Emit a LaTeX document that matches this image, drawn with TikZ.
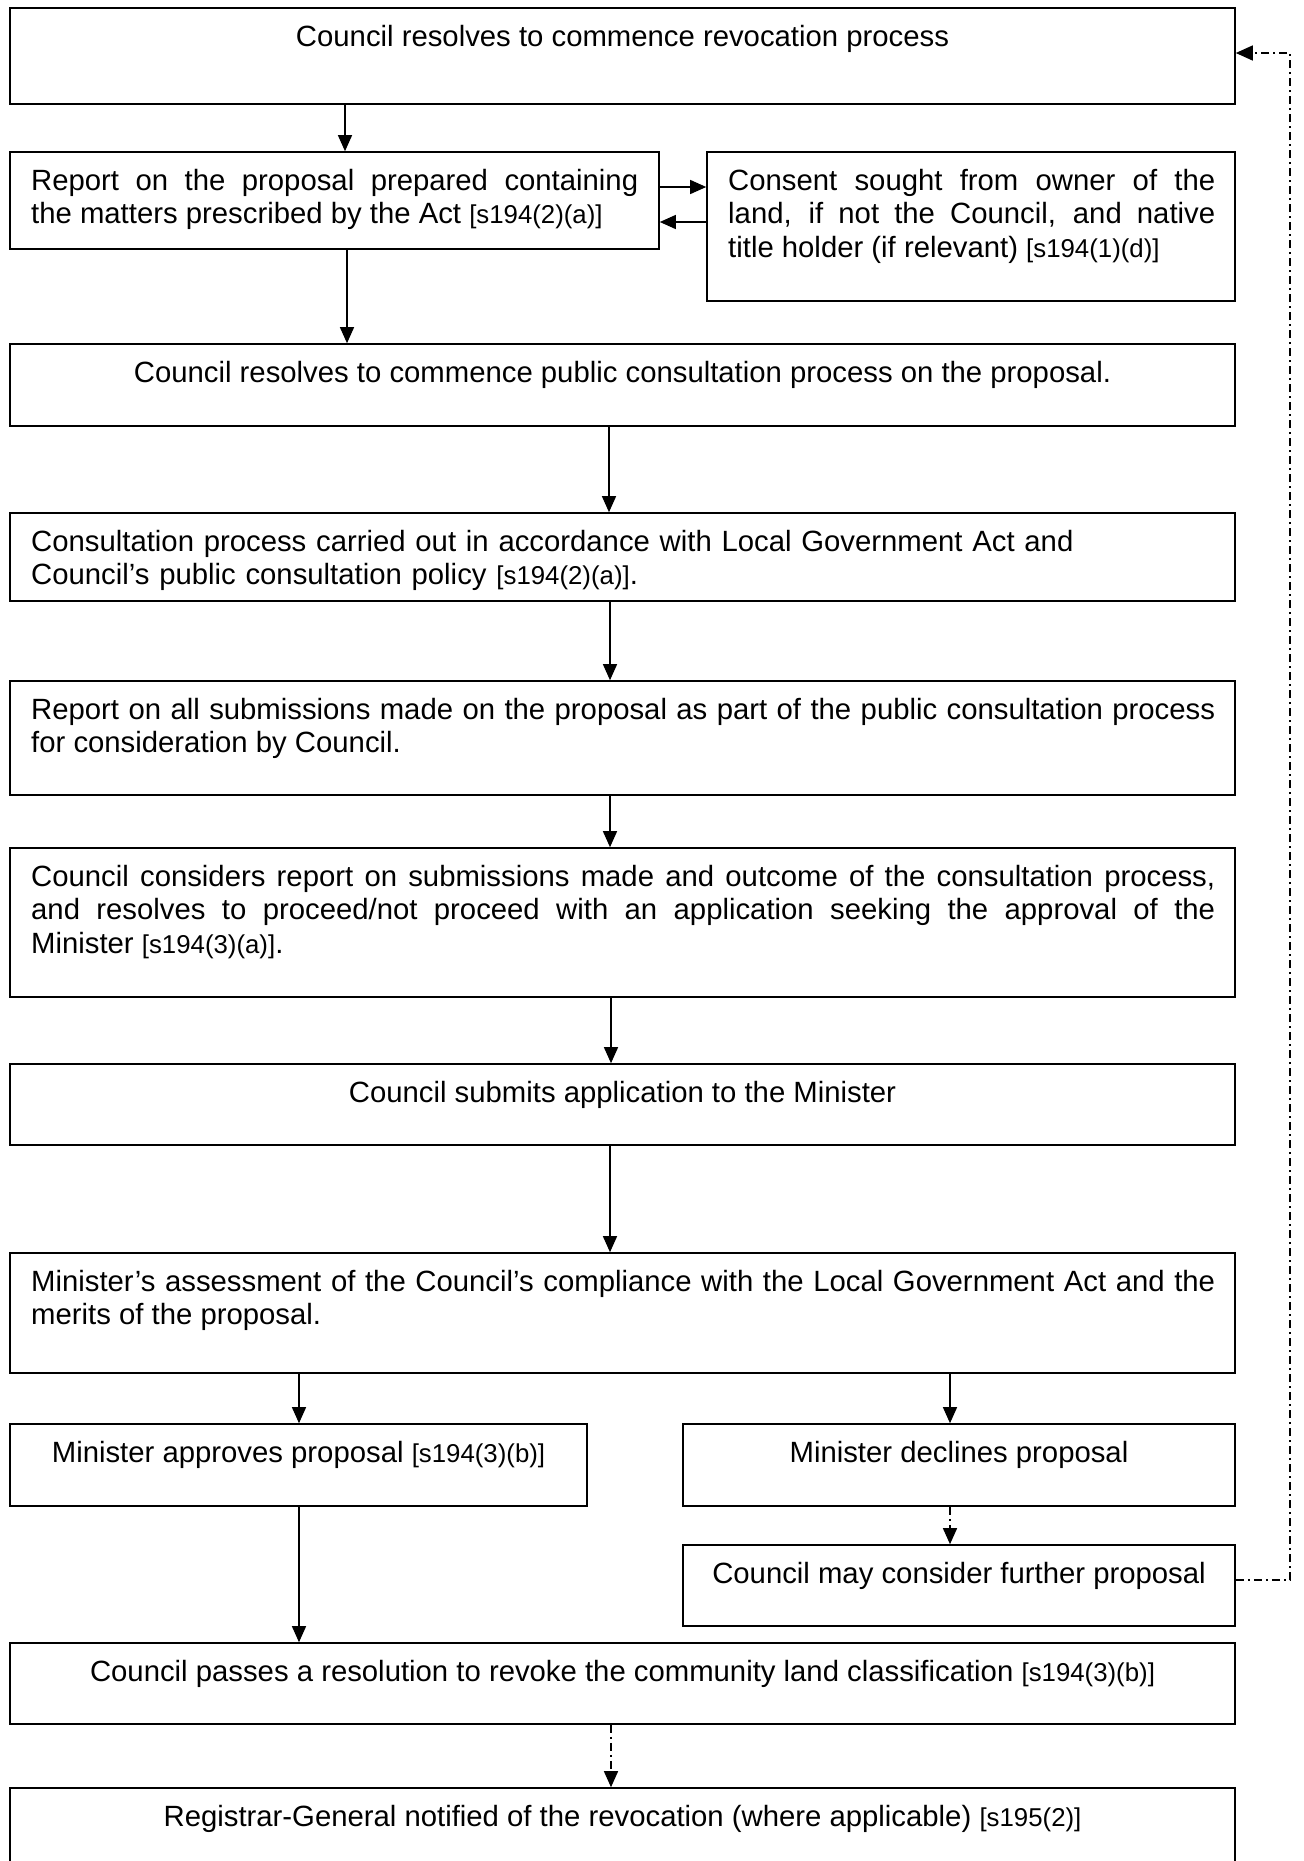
\documentclass[tikz,border=0pt]{standalone}
\usepackage{fontspec}
\setmainfont{Liberation Sans}
\usetikzlibrary{arrows.meta,fit,calc}
\newcommand\refsz[1]{{\fontsize{25.8}{33.7}\selectfont #1}}
\begin{document}
\begin{tikzpicture}[x=1pt,y=-1pt,
  box/.style={draw, line width=1.6pt, inner sep=0pt},
  txt/.style={inner sep=0pt, font=\fontsize{29.3}{33.7}\selectfont},
  ctxt/.style={txt, anchor=base},
  jtxt/.style={txt, anchor=base west, align=justify},
  arr/.style={line width=1.3pt, -{Triangle[length=16pt,width=14pt]}},
  dd/.style={line width=1.4pt, dash pattern=on 8pt off 4pt on 2pt off 4pt}]
\useasboundingbox[fill=white] (0,0) rectangle (1304,1861);

% boxes
\node[box, fit={(10,8) (1235,104)}] (b1) {};
\node[box, fit={(10,152) (659,249)}] (b2) {};
\node[box, fit={(707,152) (1235,301)}] (b3) {};
\node[box, fit={(10,344) (1235,426)}] (b4) {};
\node[box, fit={(10,513) (1235,601)}] (b5) {};
\node[box, fit={(10,681) (1235,795)}] (b6) {};
\node[box, fit={(10,848) (1235,997)}] (b7) {};
\node[box, fit={(10,1064) (1235,1145)}] (b8) {};
\node[box, fit={(10,1253) (1235,1373)}] (b9) {};
\node[box, fit={(10,1424) (587,1506)}] (b10) {};
\node[box, fit={(683,1424) (1235,1506)}] (b11) {};
\node[box, fit={(683,1545) (1235,1626)}] (b12) {};
\node[box, fit={(10,1643) (1235,1724)}] (b13) {};
\node[box, fit={(10,1788) (1235,1875)}] (b14) {};

% texts
\node[ctxt] (t1) at (622.5,46) {Council resolves to commence revocation process};
\node[jtxt, text width=607pt] (t2) at (31,190) {Report on the proposal prepared containing\linebreak the matters prescribed by the Act \refsz{[s194(2)(a)]}};
\node[jtxt, text width=487pt] (t3) at (728,190) {Consent sought from owner of the\linebreak land, if not the Council, and native\linebreak title holder (if relevant) \refsz{[s194(1)(d)]}};
\node[ctxt] (t4) at (622.5,382) {Council resolves to commence public consultation process on the proposal.};
\node[txt, anchor=base west, text width=1184pt, align=left] (t5) at (31,551) {Consultation process carried out in accordance with Local Government Act and\\Council’s public consultation policy \refsz{[s194(2)(a)]}.};
\node[jtxt, text width=1184pt] (t6) at (31,719) {Report on all submissions made on the proposal as part of the public consultation process\linebreak for consideration by Council.};
\node[jtxt, text width=1184pt] (t7) at (31,886) {Council considers report on submissions made and outcome of the consultation process,\linebreak and resolves to proceed/not proceed with an application seeking the approval of the\linebreak Minister \refsz{[s194(3)(a)]}.};
\node[ctxt] (t8) at (622.5,1102) {Council submits application to the Minister};
\node[jtxt, text width=1184pt] (t9) at (31,1291) {Minister’s assessment of the Council’s compliance with the Local Government Act and the\linebreak merits of the proposal.};
\node[ctxt] (t10) at (298.5,1462) {Minister approves proposal \refsz{[s194(3)(b)]}};
\node[ctxt] (t11) at (959,1462) {Minister declines proposal};
\node[ctxt] (t12) at (959,1583) {Council may consider further proposal};
\node[ctxt] (t13) at (622.5,1681) {Council passes a resolution to revoke the community land classification \refsz{[s194(3)(b)]}};
\node[ctxt] (t14) at (622.5,1826) {Registrar-General notified of the revocation (where applicable) \refsz{[s195(2)]}};

% connector positions
\coordinate (xa) at (345,0);
\coordinate (xb) at (347,0);
\coordinate (xc) at (609,0);
\coordinate (xd) at (610,0);
\coordinate (xe) at (611,0);
\coordinate (xf) at (299,0);
\coordinate (xg) at (950,0);
\coordinate (ya) at (0,187);
\coordinate (yb) at (0,222);
\coordinate (yc) at (0,1580);
\coordinate (yd) at (0,53);
\coordinate (fr) at (1290,1580);
\coordinate (ft) at (1290,53);

% connectors
\draw[arr] (b1.south -| xa) -- (b2.north -| xa);
\draw[arr] (b2.east |- ya) -- (b3.west |- ya);
\draw[arr] (b3.west |- yb) -- (b2.east |- yb);
\draw[arr] (b2.south -| xb) -- (b4.north -| xb);
\draw[arr] (b4.south -| xc) -- (b5.north -| xc);
\draw[arr] (b5.south -| xd) -- (b6.north -| xd);
\draw[arr] (b6.south -| xd) -- (b7.north -| xd);
\draw[arr] (b7.south -| xe) -- (b8.north -| xe);
\draw[arr] (b8.south -| xd) -- (b9.north -| xd);
\draw[arr] (b9.south -| xf) -- (b10.north -| xf);
\draw[arr] (b9.south -| xg) -- (b11.north -| xg);
\draw[arr] (b10.south -| xf) -- (b13.north -| xf);
\draw[dd, -{Triangle[length=16pt,width=14pt]}] (b11.south -| xg) -- (b12.north -| xg);
\draw[dd, -{Triangle[length=16pt,width=14pt]}] (b13.south -| xe) -- (b14.north -| xe);
\draw[dd, -{Triangle[length=17pt,width=15pt]}] (b12.east |- yc) -- (fr) -- (ft) -- (b1.east |- yd);
\end{tikzpicture}
\end{document}
